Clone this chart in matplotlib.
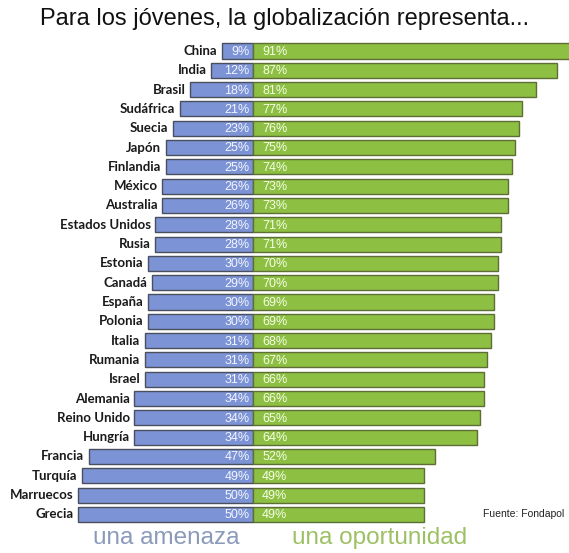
import matplotlib
matplotlib.use("Agg")
import matplotlib.pyplot as plt
from matplotlib import font_manager

# data
countries = ["China", "India", "Brasil", "Sudáfrica", "Suecia", "Japón",
             "Finlandia", "México", "Australia", "Estados Unidos", "Rusia",
             "Estonia", "Canadá", "España", "Polonia", "Italia", "Rumania",
             "Israel", "Alemania", "Reino Unido", "Hungría", "Francia",
             "Turquía", "Marruecos", "Grecia"]
amenaza = [9, 12, 18, 21, 23, 25, 25, 26, 26, 28, 28, 30, 29, 30, 30, 31,
           31, 31, 34, 34, 34, 47, 49, 50, 50]
oportunidad = [91, 87, 81, 77, 76, 75, 74, 73, 73, 71, 71, 70, 70, 69, 69,
               68, 67, 66, 66, 65, 64, 52, 49, 49, 49]

names = {f.name for f in font_manager.fontManager.ttflist}
narrow = "Liberation Sans Narrow" if "Liberation Sans Narrow" in names else "Liberation Sans"
label_font = "Lato" if "Lato" in names else "DejaVu Sans"

blue = "#7c93d6"
green = "#8dbf43"

fig = plt.figure(figsize=(5.69, 5.53), dpi=100)
ax = fig.add_axes([0, 0, 1, 1])
ax.set_xlim(-72.3, 90.3)
ax.set_ylim(26.0, -2.64)
ax.axis("off")

y = list(range(len(countries)))
ax.barh(y, [-a for a in amenaza], height=0.78, color=blue,
        edgecolor="#4a4f5e", linewidth=1.0)
ax.barh(y, oportunidad, height=0.78, color=green,
        edgecolor="#5e6e35", linewidth=1.0)

for i, (c, a, o) in enumerate(zip(countries, amenaza, oportunidad)):
    ax.text(-a - 1.2, i, c, ha="right", va="center", fontsize=9.5,
            fontweight="bold", family=label_font, color="#1a1a1a")
    ax.text(-1.0, i + 0.05, f"{a}%", ha="right", va="center", fontsize=9,
            family=narrow, color="#f4f6ff")
    ax.text(2.6, i + 0.05, f"{o}%", ha="left", va="center", fontsize=9,
            family=narrow, color="#f6ffe8")

fig.text(0.5, 1 - 19 / 553, "Para los jóvenes, la globalización representa...",
         ha="center", va="center", fontsize=17, family=narrow, color="#111111")
fig.text(166 / 569, 1 - 538 / 553, "una amenaza", ha="center", va="center",
         fontsize=17.5, family=narrow, color="#8a9abb")
fig.text(380 / 569, 1 - 538 / 553, "una oportunidad", ha="center", va="center",
         fontsize=17.5, family=narrow, color="#9dc064")
fig.text(564 / 569, 1 - 514 / 553, "Fuente: Fondapol", ha="right", va="center",
         fontsize=7.5, family=narrow, color="#222222")

plt.savefig("out.png", dpi=100)
